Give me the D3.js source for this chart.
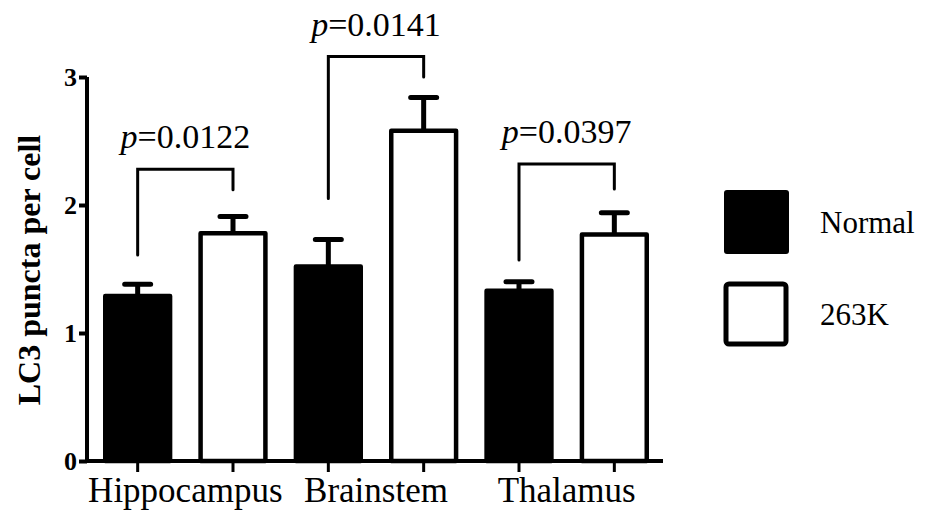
<!doctype html>
<html lang="en">

<head>
    <meta charset="utf-8">
    <title>LC3 puncta per cell</title>
    <script src="https://cdn.jsdelivr.net/npm/d3@7"></script>
</head>

<body style="margin:0;background:#fff">
    <svg></svg>
    <script>
        var width = 926;
        var height = 515;
        var serif = "'Liberation Serif', 'Times New Roman', serif";

        // data
        var regions = ["Hippocampus", "Brainstem", "Thalamus"];
        var groups = ["Normal", "263K"];
        var normalMean = [1.29, 1.52, 1.33];
        var normalErr = [0.09, 0.21, 0.07];
        var k263Mean = [1.78, 2.58, 1.77];
        var k263Err = [0.13, 0.26, 0.17];
        var pValues = ["0.0122", "0.0141", "0.0397"];
        // significance brackets, in y units
        var bracketTop = [2.28, 3.16, 2.32];
        var bracketLeft = [1.61, 2.05, 1.57];
        var bracketRight = [2.12, 3.0, 2.125];
        var yTicks = [0, 1, 2, 3];

        var svg = d3.select('svg').attr('width', width).attr('height', height);

        // one entry per bar
        var bars = [];
        regions.forEach(function (r, i) {
            bars.push({ key: r + "|Normal", region: r, group: "Normal", mean: normalMean[i], err: normalErr[i] });
            bars.push({ key: r + "|263K", region: r, group: "263K", mean: k263Mean[i], err: k263Err[i] });
        });

        var xScale = d3.scaleBand()
            .domain(bars.map(function (d) { return d.key; }))
            .range([90, 662])
            .paddingInner(0.32)
            .paddingOuter(0.16);

        var yScale = d3.scaleLinear()
            .domain([0, 3])
            .range([461, 77]);

        var cx = function (key) { return xScale(key) + xScale.bandwidth() / 2; };

        //y axis
        var yAxis = svg.append("g")
            .attr("transform", "translate(87,0)")
            .call(d3.axisLeft(yScale).tickValues(yTicks).tickSize(8).tickPadding(2).tickFormat(d3.format("d")));
        yAxis.select(".domain").attr("d", "M0," + yScale(3) + "V" + yScale(0)).attr("stroke-width", 4);
        yAxis.selectAll(".tick line").attr("stroke-width", 4);
        yAxis.selectAll(".tick text")
            .style("font-family", serif)
            .style("font-weight", "bold")
            .style("font-size", "26px")
            .attr("dy", "0.34em")
            .attr("fill", "#000");

        //x axis, one tick under every bar
        var xAxis = svg.append("g")
            .attr("transform", "translate(0," + yScale(0) + ")");
        xAxis.append("line")
            .attr("x1", 85).attr("x2", 663)
            .attr("stroke", "#000").attr("stroke-width", 4);
        xAxis.selectAll(".xtick")
            .data(bars)
            .enter()
            .append("line")
            .attr("x1", function (d) { return cx(d.key); })
            .attr("x2", function (d) { return cx(d.key); })
            .attr("y1", 0).attr("y2", 11)
            .attr("stroke", "#000").attr("stroke-width", 3);

        svg.selectAll(".region")
            .data(regions)
            .enter()
            .append("text")
            .attr("x", function (d) { return (cx(d + "|Normal") + cx(d + "|263K")) / 2; })
            .attr("y", 502)
            .attr("text-anchor", "middle")
            .style("font-family", serif)
            .style("font-size", "35px")
            .text(function (d) { return d; });

        //error bars first, bars drawn over them
        svg.selectAll(".err")
            .data(bars)
            .enter()
            .append("path")
            .attr("d", function (d) {
                var x = cx(d.key);
                var yt = yScale(d.mean + d.err);
                return "M" + x + "," + yScale(d.mean) + "V" + yt + "M" + (x - 13) + "," + yt + "H" + (x + 13);
            })
            .attr("fill", "none")
            .attr("stroke", "#000")
            .attr("stroke-width", 5)
            .attr("stroke-linecap", "round");

        svg.selectAll(".bar")
            .data(bars)
            .enter()
            .append("rect")
            .attr("x", function (d) { return xScale(d.key); })
            .attr("y", function (d) { return yScale(d.mean); })
            .attr("width", xScale.bandwidth())
            .attr("height", function (d) { return yScale(0) - yScale(d.mean); })
            .attr("fill", function (d) { return d.group == "Normal" ? "#000" : "#fff"; })
            .attr("stroke", "#000")
            .attr("stroke-width", 4.5)
            .attr("stroke-linejoin", "round");

        //significance brackets
        regions.forEach(function (r, i) {
            var x1 = cx(r + "|Normal");
            var x2 = cx(r + "|263K");
            svg.append("path")
                .attr("d", "M" + x1 + "," + yScale(bracketLeft[i]) + "V" + yScale(bracketTop[i]) +
                    "H" + x2 + "V" + yScale(bracketRight[i]))
                .attr("fill", "none")
                .attr("stroke", "#000")
                .attr("stroke-width", 3)
                .attr("stroke-linecap", "round");
            var t = svg.append("text")
                .attr("x", (x1 + x2) / 2)
                .attr("y", yScale(bracketTop[i]) - 21)
                .attr("text-anchor", "middle")
                .style("font-family", serif)
                .style("font-size", "34px");
            t.append("tspan").style("font-style", "italic").text("p");
            t.append("tspan").text("=" + pValues[i]);
        });

        //y title
        svg.append("text")
            .attr("transform", "translate(40,270) rotate(-90)")
            .attr("text-anchor", "middle")
            .style("font-family", serif)
            .style("font-weight", "bold")
            .style("font-size", "32px")
            .text("LC3 puncta per cell");

        //legend
        var legend = svg.selectAll(".legend")
            .data(groups)
            .enter()
            .append("g")
            .attr("transform", function (d, i) { return "translate(724," + (190 + i * 92) + ")"; });
        legend.append("rect")
            .attr("x", function (d) { return d == "Normal" ? 0 : 2; })
            .attr("y", function (d) { return d == "Normal" ? 0 : 2; })
            .attr("width", function (d) { return d == "Normal" ? 65 : 60; })
            .attr("height", function (d) { return d == "Normal" ? 64 : 60; })
            .attr("rx", 3)
            .attr("fill", function (d) { return d == "Normal" ? "#000" : "#fff"; })
            .attr("stroke", function (d) { return d == "Normal" ? "none" : "#000"; })
            .attr("stroke-width", 5);
        legend.append("text")
            .attr("x", 96)
            .attr("y", 43)
            .style("font-family", serif)
            .style("font-size", "31px")
            .text(function (d) { return d; });
    </script>

</body>

</html>
